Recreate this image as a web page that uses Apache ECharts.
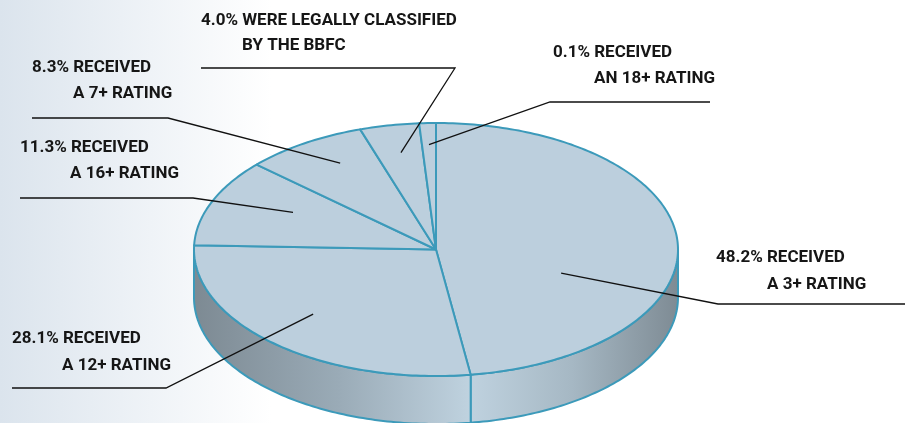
<!DOCTYPE html>
<html>
<head>
<meta charset="utf-8">
<script src="https://cdn.jsdelivr.net/npm/echarts@6/dist/echarts.min.js"></script>
<style>
  html, body { margin: 0; padding: 0; background: #fff; }
  #chart { width: 905px; height: 423px; }
</style>
</head>
<body>
<div id="chart"></div>
<script>
// slices, clockwise from 12 o'clock
const categories = ['3+', '12+', '16+', '7+', 'BBFC', '18+'];
const shares = [48.2, 28.1, 11.3, 8.3, 4.0, 0.1];
const labelTop = ['48.2% RECEIVED', '28.1% RECEIVED', '11.3% RECEIVED', '8.3% RECEIVED', '4.0% WERE LEGALLY CLASSIFIED', '0.1% RECEIVED'];
const labelBottom = ['A 3+ RATING', 'A 12+ RATING', 'A 16+ RATING', 'A 7+ RATING', 'BY THE BBFC', 'AN 18+ RATING'];

// label placement (layout only)
const textPos = [[716, 258, 767, 285], [12, 339, 62, 366], [20, 148, 70, 174], [32, 68, 73, 94], [201, 21, 242, 46], [553, 53, 594, 79]];
const leaderPos = [[905, 304, 718, 304], [12, 388, 166, 388], [20, 198, 193, 198], [32, 118, 168, 118], [201, 68, 455, 68], [710, 102, 550, 102]];
// where the leader ends inside the slice: [fraction of slice angle, fraction of radius]
const leaderEnd = [[0.64, 0.55], [0.53, 0.72], [0.61, 0.66], [0.6, 0.79], [0.53, 0.78], [0.5, 0.83]];

// pie geometry
const cx = 436, cy = 249.5, rx = 242, ry = 126.5, depth = 48;
const minAngle = 4;
const edge = '#3c9aba';

// angles like pie minAngle
function sliceAngles(vals) {
    const total = vals.reduce((a, b) => a + b, 0);
    let small = 0, bigSum = 0;
    vals.forEach(v => {
        if (v / total * 360 < minAngle) small++; else bigSum += v;
    });
    const rest = 360 - small * minAngle;
    let a = 0;
    return vals.map(v => {
        const span = v / total * 360 < minAngle ? minAngle : v / bigSum * rest;
        const r = [a, a + span];
        a += span;
        return r;
    });
}
const angles = sliceAngles(shares);

function pt(deg, f, dy) {
    const t = deg * Math.PI / 180;
    return [cx + rx * f * Math.sin(t), cy - ry * f * Math.cos(t) + (dy || 0)];
}
function arc(a0, a1, dy) {
    const pts = [];
    const n = Math.max(2, Math.ceil((a1 - a0) / 1));
    for (let k = 0; k <= n; k++) pts.push(pt(a0 + (a1 - a0) * k / n, 1, dy));
    return pts;
}

const sideFill = new echarts.graphic.LinearGradient(cx - rx, 0, cx + rx, 0, [
    { offset: 0, color: '#7d8a93' },
    { offset: 0.3, color: '#9aabb7' },
    { offset: 0.57, color: '#bfd2df' },
    { offset: 0.78, color: '#a6b8c4' },
    { offset: 1, color: '#7e8b94' }
], true);

let chart = echarts.init(document.getElementById('chart'));
chart.setOption({
    backgroundColor: new echarts.graphic.LinearGradient(0, 0, 1, 0, [
        { offset: 0, color: '#dbe4ed' },
        { offset: 0.3, color: '#ffffff' },
        { offset: 1, color: '#ffffff' }
    ]),
    animation: false,
    series: [{
        type: 'custom',
        coordinateSystem: 'none',
        data: shares.map((v, i) => ({ name: categories[i], value: v })),
        renderItem: function (params, api) {
            const i = params.dataIndex;
            const a0 = angles[i][0], a1 = angles[i][1];
            const children = [];
            // front wall
            const s = Math.max(a0, 90), e = Math.min(a1, 270);
            if (e > s) {
                const pts = arc(s, e, 0).concat(arc(s, e, depth).reverse());
                children.push({
                    type: 'polygon', z2: 1,
                    shape: { points: pts },
                    style: { fill: sideFill, stroke: edge, lineWidth: 2, lineJoin: 'round' }
                });
            }
            // top face
            children.push({
                type: 'polygon', z2: 5,
                shape: { points: [[cx, cy]].concat(arc(a0, a1, 0)) },
                style: { fill: '#bccfdd', stroke: edge, lineWidth: 2, lineJoin: 'round' }
            });
            // leader line
            const end = pt(a0 + (a1 - a0) * leaderEnd[i][0], leaderEnd[i][1]);
            const lp = leaderPos[i];
            children.push({
                type: 'polyline', z2: 10,
                shape: { points: [[lp[0], lp[1]], [lp[2], lp[3]], end] },
                style: { fill: null, stroke: '#111', lineWidth: 1.3 }
            });
            const tp = textPos[i];
            const font = 'bold 17px Roboto, "DejaVu Sans", sans-serif';
            children.push({
                type: 'text', z2: 10,
                style: { text: labelTop[i], x: tp[0], y: tp[1], fill: '#161616', font: font, textVerticalAlign: 'middle' }
            });
            children.push({
                type: 'text', z2: 10,
                style: { text: labelBottom[i], x: tp[2], y: tp[3], fill: '#161616', font: font, textVerticalAlign: 'middle' }
            });
            return { type: 'group', children: children };
        }
    }]
});
</script>
</body>
</html>
